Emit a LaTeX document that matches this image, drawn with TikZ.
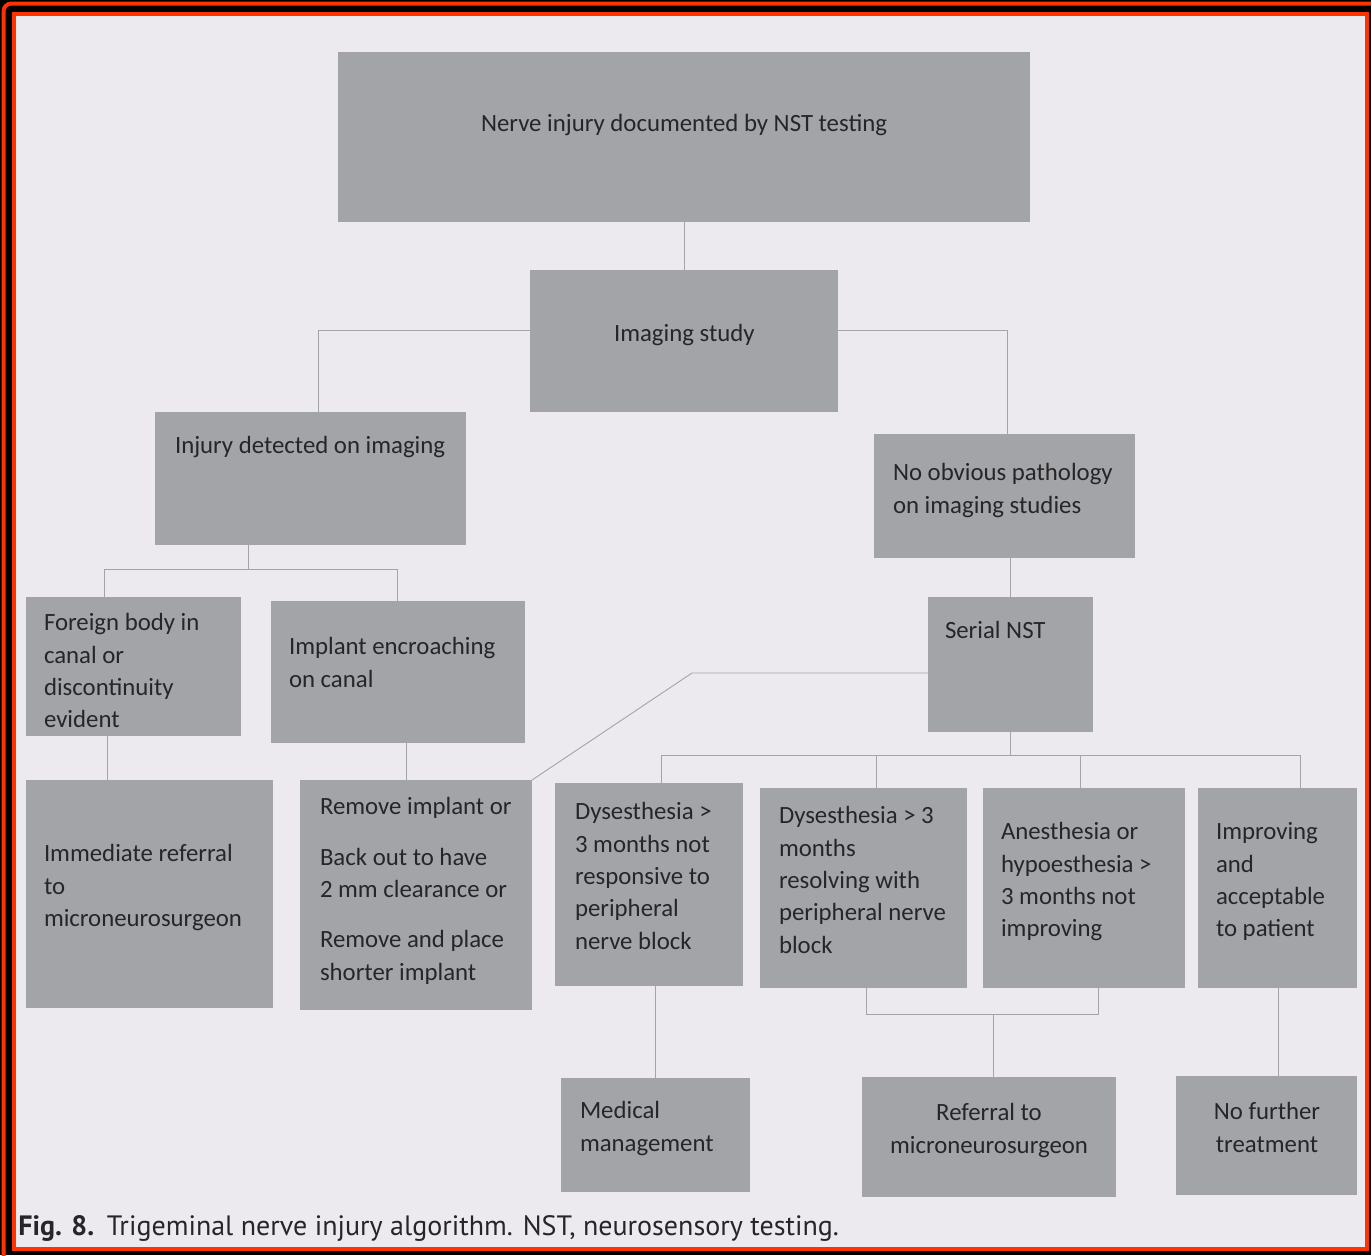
\documentclass[tikz,border=0pt]{standalone}
\usepackage{fontspec}
\setmainfont{Carlito}
\newfontfamily\capfont{PT Sans}
\usetikzlibrary{calc}
\definecolor{bg}{HTML}{ECEAEE}
\definecolor{boxgray}{HTML}{A3A4A7}
\definecolor{ink}{HTML}{262628}
\definecolor{linegray}{HTML}{A4A4A6}
\definecolor{frame}{HTML}{FF3300}
\tikzset{
  box/.style={draw=none, fill=boxgray, inner sep=0pt, outer sep=0pt, anchor=north west},
  txt/.style={inner sep=0pt, outer sep=0pt, anchor=north west, align=left, text=ink,
    font=\fontsize{12.4}{16.2}\selectfont, yshift=-1.5pt},
  ctxt/.style={txt, anchor=north, align=center},
  conn/.style={draw=linegray, line width=0.45pt},
}
\newcommand{\bx}[5]{\node[box, minimum width={(#4-#2)*0.5pt}, minimum height={(#5-#3)*0.5pt}] (#1) at (#2,#3) {};}
\begin{document}
\begin{tikzpicture}[x=0.5pt,y=-0.5pt]
% frame
\fill[black] (0,0) rectangle (1371,1255);
\useasboundingbox (0,0) rectangle (1371,1255);
\draw[frame, line width=2pt, rounded corners=4pt] (3.5,3.5) rectangle (1380,1265);
\draw[frame, line width=2pt] (14,14) rectangle (1367,1249);
\fill[bg] (16,16) rectangle (1365,1247);
% boxes
\bx{top}{338}{52}{1030}{222}
\bx{img}{530}{270}{838}{412}
\bx{inj}{155}{412}{466}{545}
\bx{nop}{874}{434}{1135}{558}
\bx{snst}{928}{597}{1093}{732}
\bx{fb}{26}{597}{241}{736}
\bx{imp}{271}{601}{525}{743}
\bx{imm}{26}{780}{273}{1008}
\bx{rem}{300}{780}{532}{1010}
\bx{da}{555}{783}{743}{986}
\bx{db}{760}{788}{967}{988}
\bx{an}{983}{788}{1185}{988}
\bx{ok}{1198}{788}{1357}{988}
\bx{med}{561}{1078}{750}{1192}
\bx{ref}{862}{1077}{1116}{1197}
\bx{nft}{1176}{1076}{1357}{1195}
% texts
\node[txt] (ttop) at (481,106) {\strut Nerve injury documented by NST testing};
\node[txt] (timg) at (614,316) {\strut Imaging study};
\node[txt] (tinj) at (175,428) {\strut Injury detected on imaging};
\node[txt] (tnop) at (893,455) {\strut No obvious pathology\\on imaging studies};
\node[txt] (tsnst) at (945,613) {\strut Serial NST};
\node[txt] (tfb) at (44,605) {\strut Foreign body in\\canal or\\discontinuity\\evident};
\node[txt] (timp) at (289,629) {\strut Implant encroaching\\on canal};
\node[txt] (timm) at (44,836) {\strut Immediate referral\\to\\microneurosurgeon};
\node[txt] (trem) at (320,789) {\strut Remove implant or\\[9pt]Back out to have\\2 mm clearance or\\[9pt]Remove and place\\shorter implant};
\node[txt] (tda) at (575,794) {\strut Dysesthesia >\\3 months not\\responsive to\\peripheral\\nerve block};
\node[txt] (tdb) at (779,798) {\strut Dysesthesia > 3\\months\\resolving with\\peripheral nerve\\block};
\node[txt] (tan) at (1001,814) {\strut Anesthesia or\\hypoesthesia >\\3 months not\\improving};
\node[txt] (tok) at (1216,814) {\strut Improving\\and\\acceptable\\to patient};
\node[txt] (tmed) at (580,1093) {\strut Medical\\management};
\node[ctxt] (tref) at (989,1095) {\strut Referral to\\microneurosurgeon};
\node[ctxt] (tnft) at (1267,1094) {\strut No further\\treatment};
\node[inner sep=0pt, anchor=base west, text=ink, font=\capfont\fontsize{14}{16}\selectfont] (cap) at (18,1235)
  {\textbf{Fig. 8.}\hspace{0.45em}Trigeminal nerve injury algorithm. NST, neurosensory testing.};
% connector coordinates
\coordinate (c1) at (318,330);
\coordinate (c2) at (1007,330);
\coordinate (c3) at (692,673);
\coordinate (c4) at (661,755);
\coordinate (c5) at (1300,755);
\coordinate (c6) at (876,755);
\coordinate (c7) at (1080,755);
\coordinate (c8) at (248,569);
\coordinate (c9) at (104,569);
\coordinate (c10) at (397,569);
\coordinate (c11) at (107,760);
\coordinate (c12) at (866,1014);
\coordinate (c13) at (1098,1014);
\coordinate (c14) at (993,1014);
\coordinate (c15) at (406,760);
\coordinate (c16) at (655,1030);
\coordinate (c17) at (1278,1030);
% connectors
\draw[conn] (top.south) -- (img.north);
\draw[conn] (img.west |- c1) -- (c1) -- (inj.north -| c1);
\draw[conn] (img.east |- c2) -- (c2) -- (nop.north -| c2);
\draw[conn] (snst.north) -- (snst.north |- nop.south);
\draw[conn] (snst.west |- c3) -- (c3) -- (rem.north east);
\draw[conn] (snst.south) -- (snst.south |- c4);
\draw[conn] (da.north -| c4) -- (c4) -- (c5) -- (ok.north -| c5);
\draw[conn] (c6) -- (db.north -| c6);
\draw[conn] (c7) -- (an.north -| c7);
\draw[conn] (inj.south -| c8) -- (c8);
\draw[conn] (fb.north -| c9) -- (c9) -- (c10) -- (imp.north -| c10);
\draw[conn] (fb.south -| c11) -- (imm.north -| c11);
\draw[conn] (imp.south -| c15) -- (rem.north -| c15);
\draw[conn] (da.south -| c16) -- (med.north -| c16);
\draw[conn] (db.south -| c12) -- (c12) -- (c13) -- (an.south -| c13);
\draw[conn] (c14) -- (ref.north -| c14);
\draw[conn] (ok.south -| c17) -- (nft.north -| c17);
\end{tikzpicture}
\end{document}
